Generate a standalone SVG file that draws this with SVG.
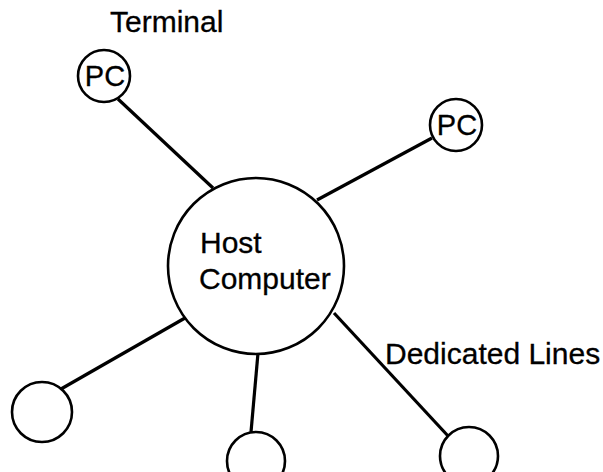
<svg xmlns="http://www.w3.org/2000/svg" width="603" height="472" viewBox="0 0 603 472">
  <style>
    .node { fill: #fff; stroke: #000; stroke-width: 2.6; }
    .link { stroke: #000; stroke-width: 3.2; stroke-linecap: butt; }
    .lbl { font-family: "Liberation Sans", Arial, Helvetica, sans-serif; font-size: 30px; fill: #000; stroke: #000; stroke-width: 0.3; }
    .pc { font-size: 29px; text-anchor: middle; }
  </style>
  <rect width="603" height="472" fill="#fff"/>
  <!-- dedicated lines from host to each terminal -->
  <g id="connectors">
    <line class="link" x1="118" y1="99" x2="213" y2="188"/>
    <line class="link" x1="432" y1="138" x2="317" y2="200"/>
    <line class="link" x1="185" y1="318" x2="61" y2="389"/>
    <line class="link" x1="258" y1="353" x2="251" y2="432"/>
    <line class="link" x1="334" y1="313" x2="449" y2="437"/>
  </g>
  <g id="host">
    <circle class="node" cx="256" cy="266" r="88"/>
    <text class="lbl" x="200" y="253">Host</text>
    <text class="lbl" x="199" y="289">Computer</text>
  </g>
  <g id="terminal-label">
    <text class="lbl" x="110" y="32">Terminal</text>
  </g>
  <g id="pc-1">
    <circle class="node" cx="104" cy="76" r="26"/>
    <text class="lbl pc" x="105" y="86">PC</text>
  </g>
  <g id="pc-2">
    <circle class="node" cx="456" cy="125" r="26"/>
    <text class="lbl pc" x="457" y="135">PC</text>
  </g>
  <g id="terminal-3">
    <circle class="node" cx="42" cy="412" r="30"/>
  </g>
  <g id="terminal-4">
    <circle class="node" cx="256" cy="461" r="29"/>
  </g>
  <g id="terminal-5">
    <circle class="node" cx="469" cy="456" r="29"/>
  </g>
  <g id="lines-label">
    <text class="lbl" x="385" y="364">Dedicated Lines</text>
  </g>
</svg>
